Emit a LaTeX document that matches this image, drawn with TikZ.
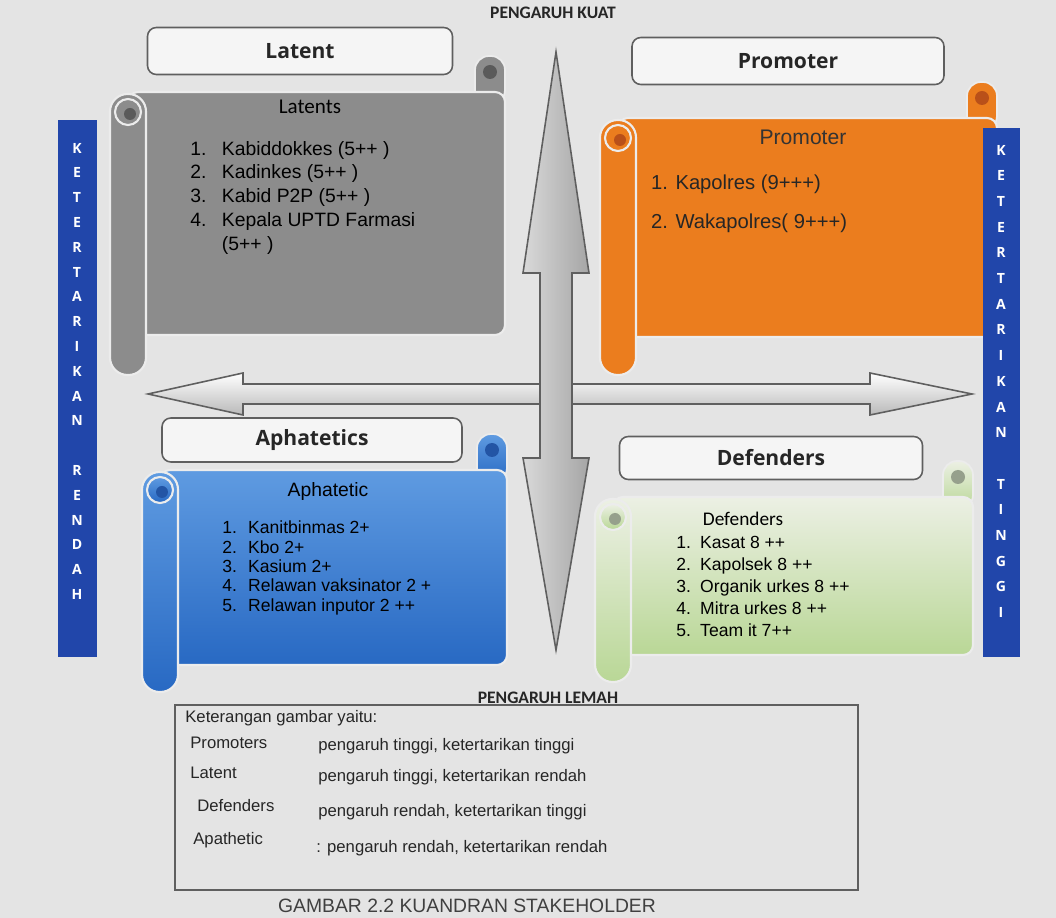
\documentclass[tikz,border=0pt]{standalone}
\usepackage{fontspec}
\setmainfont{Liberation Sans}
\newfontfamily\calib{Carlito}
\newfontfamily\opensans{Open Sans}
\usepackage{tikz}

\definecolor{bggray}{RGB}{228,228,228}
\definecolor{latentgray}{RGB}{140,140,140}
\definecolor{latentdark}{RGB}{90,90,90}
\definecolor{promorange}{RGB}{235,125,30}
\definecolor{promdark}{RGB}{185,80,25}
\definecolor{aphtop}{RGB}{95,155,225}
\definecolor{aphbot}{RGB}{40,105,195}
\definecolor{aphdark}{RGB}{35,85,165}
\definecolor{deftop}{RGB}{236,240,228}
\definecolor{defbot}{RGB}{185,215,150}
\definecolor{defdark}{RGB}{150,160,140}
\definecolor{barblue}{RGB}{33,70,170}
\definecolor{edgegray}{RGB}{95,95,95}

\tikzset{
    titlebox/.style={draw=edgegray, line width=0.9pt, fill=white!92!gray, rounded corners=5pt},
    titletext/.style={font=\opensans\bfseries\fontsize{12}{14}\selectfont, text=black!85},
    axistext/.style={font=\calib\bfseries\fontsize{10}{12}\selectfont, text=black!85},
    barletter/.style={font=\opensans\bfseries\fontsize{8}{9}\selectfont, text=white, inner sep=0pt},
    legendtext/.style={font=\fontsize{9.5}{11}\selectfont, text=black!85, anchor=west, inner sep=0pt},
    latentfill/.style={fill=latentgray},
    promfill/.style={fill=promorange},
    aphfill/.style={top color=aphtop, bottom color=aphbot},
    deffill/.style={top color=deftop, bottom color=defbot},
    arrowbody/.style={draw=edgegray, line width=0.9pt},
}

% scroll: left, top, right, bottom, roll bottom, fill style, curl colour
\newcommand{\scrollpic}[7]{%
    \filldraw[#6, draw=white!85!gray, line width=1pt, rounded corners=0.28cm] (#3-30,#2-36) rectangle (#3,#2+12);
    \fill[#7] (#3-15,#2-20) circle[radius=0.14cm];
    \filldraw[#6, draw=white!85!gray, line width=1.2pt, rounded corners=0.2cm] (#1+18,#2) rectangle (#3,#4);
    \filldraw[#6, draw=white!85!gray, line width=1.2pt, rounded corners=0.35cm] (#1,#2+2) rectangle (#1+36,#5);
    \filldraw[#6, draw=white!85!gray, line width=1.2pt] (#1+18,#2+20) circle[radius=0.26cm];
    \fill[#7] (#1+20,#2+22) circle[radius=0.12cm];
}

\begin{document}
\begin{tikzpicture}[x=0.02cm, y=-0.02cm]
    \useasboundingbox (0,0) rectangle (1056,918);
    \fill[bggray] (0,0) rectangle (1056,918);

    % scrolls
    \scrollpic{110}{92}{505}{335}{375}{latentfill}{latentdark}
    \scrollpic{600}{118}{997}{337}{375}{promfill}{promdark}
    \scrollpic{142}{470}{507}{665}{692}{aphfill}{aphdark}
    \scrollpic{595}{497}{973}{655}{682}{deffill}{defdark}

    % title boxes
    \node[titlebox, minimum width=6.1cm, minimum height=0.94cm] (latentbox) at (300,51) {};
    \node[titletext] (latenttitle) at (latentbox) {Latent};
    \node[titlebox, minimum width=6.24cm, minimum height=0.94cm] (promobox) at (788,61) {};
    \node[titletext] (promotitle) at (promobox) {Promoter};
    \node[titlebox, minimum width=6.0cm, minimum height=0.88cm] (aphbox) at (312,440) {};
    \node[titletext] (aphtitle) at (aphbox) {Aphatetics};
    \node[titlebox, minimum width=6.06cm, minimum height=0.86cm] (defbox) at (771,458) {};
    \node[titletext] (deftitle) at (defbox) {Defenders};

    % axis arrows
    \filldraw[arrowbody, top color=white, bottom color=gray!55]
        (148,394) -- (243,373) -- (243,384) -- (870,384) -- (870,373) -- (972,394)
        -- (870,415) -- (870,404) -- (243,404) -- (243,415) -- cycle;
    \filldraw[arrowbody, left color=gray!30, right color=gray!70]
        (556,52) -- (589,273) -- (572,273) -- (572,458) -- (589,458) -- (556,650)
        -- (523,458) -- (540,458) -- (540,273) -- (523,273) -- cycle;

    \node[axistext] (kuat) at (553,13) {PENGARUH KUAT};
    \node[axistext] (lemah) at (548,698) {PENGARUH LEMAH};

    % quadrant contents
    \node[font=\calib\fontsize{12}{14}\selectfont] (latentshead) at (310,107) {Latents};
    \node[anchor=north west, inner sep=0pt, font=\fontsize{11}{13.6}\selectfont] (latentlist) at (190,138) {%
        \begin{tabular}{@{}p{18pt}@{}l@{}}
        1. & Kabiddokkes (5++ )\\
        2. & Kadinkes (5++ )\\
        3. & Kabid P2P (5++ )\\
        4. & Kepala UPTD Farmasi\\
           & (5++ )
        \end{tabular}};

    \node[font=\fontsize{12}{14}\selectfont, text=black!80] (promhead) at (803,137) {Promoter};
    \node[anchor=base west, font=\fontsize{11.5}{13}\selectfont, text=black!85] (prom1) at (645,190) {1. Kapolres (9+++)};
    \node[anchor=base west, font=\fontsize{11.5}{13}\selectfont, text=black!85] (prom2) at (645,229) {2. Wakapolres( 9+++)};

    \node[font=\fontsize{11}{13}\selectfont] (aphhead) at (328,492) {Aphatetic};
    \node[anchor=north west, inner sep=0pt, font=\fontsize{10}{11}\selectfont] (aphlist) at (222,520) {%
        \begin{tabular}{@{}p{14.7pt}@{}l@{}}
        1. & Kanitbinmas 2+\\
        2. & Kbo 2+\\
        3. & Kasium 2+\\
        4. & Relawan vaksinator 2 +\\
        5. & Relawan inputor 2 ++
        \end{tabular}};

    \node[font=\calib\fontsize{11}{13}\selectfont] (defhead) at (743,519) {Defenders};
    \node[anchor=north west, inner sep=0pt, font=\fontsize{10}{12.5}\selectfont] (deflist) at (676,533) {%
        \begin{tabular}{@{}p{13.6pt}@{}l@{}}
        1. & Kasat 8 ++\\
        2. & Kapolsek 8 ++\\
        3. & Organik urkes 8 ++\\
        4. & Mitra urkes 8 ++\\
        5. & Team it 7++
        \end{tabular}};

    % side bars
    \fill[barblue] (58,120) rectangle (97,657);
    \fill[barblue] (983,128) rectangle (1020,657);
    \foreach \ch [count=\i] in {K,E,T,E,R,T,A,R,I,K,A,N,{},R,E,N,D,A,H}
        \node[barletter] (lowl\i) at (77,148+24.8*\i-24.8) {\ch};
    \foreach \ch [count=\i] in {K,E,T,E,R,T,A,R,I,K,A,N,{},T,I,N,G,G,I}
        \node[barletter] (highl\i) at (1001,150+25.7*\i-25.7) {\ch};

    % legend
    \draw[edgegray, line width=0.8pt] (175,705) rectangle (858,890);
    \node[legendtext] (legendhead) at (185,718) {Keterangan gambar yaitu:};
    \node[legendtext] (lgprom) at (190,743) {Promoters};
    \node[legendtext] (lglat) at (190,773) {Latent};
    \node[legendtext] (lgdef) at (197,806) {Defenders};
    \node[legendtext] (lgaph) at (193,840) {Apathetic};
    \node[legendtext] (dsprom) at (318,746) {pengaruh tinggi, ketertarikan tinggi};
    \node[legendtext] (dslat) at (318,777) {pengaruh tinggi, ketertarikan rendah};
    \node[legendtext] (dsdef) at (318,812) {pengaruh rendah, ketertarikan tinggi};
    \node[legendtext] (dsaph) at (316,848) {: pengaruh rendah, ketertarikan rendah};

    \node[font=\fontsize{11}{13}\selectfont, text=black!75] (caption) at (467,906) {GAMBAR 2.2 KUANDRAN STAKEHOLDER};
\end{tikzpicture}
\end{document}
